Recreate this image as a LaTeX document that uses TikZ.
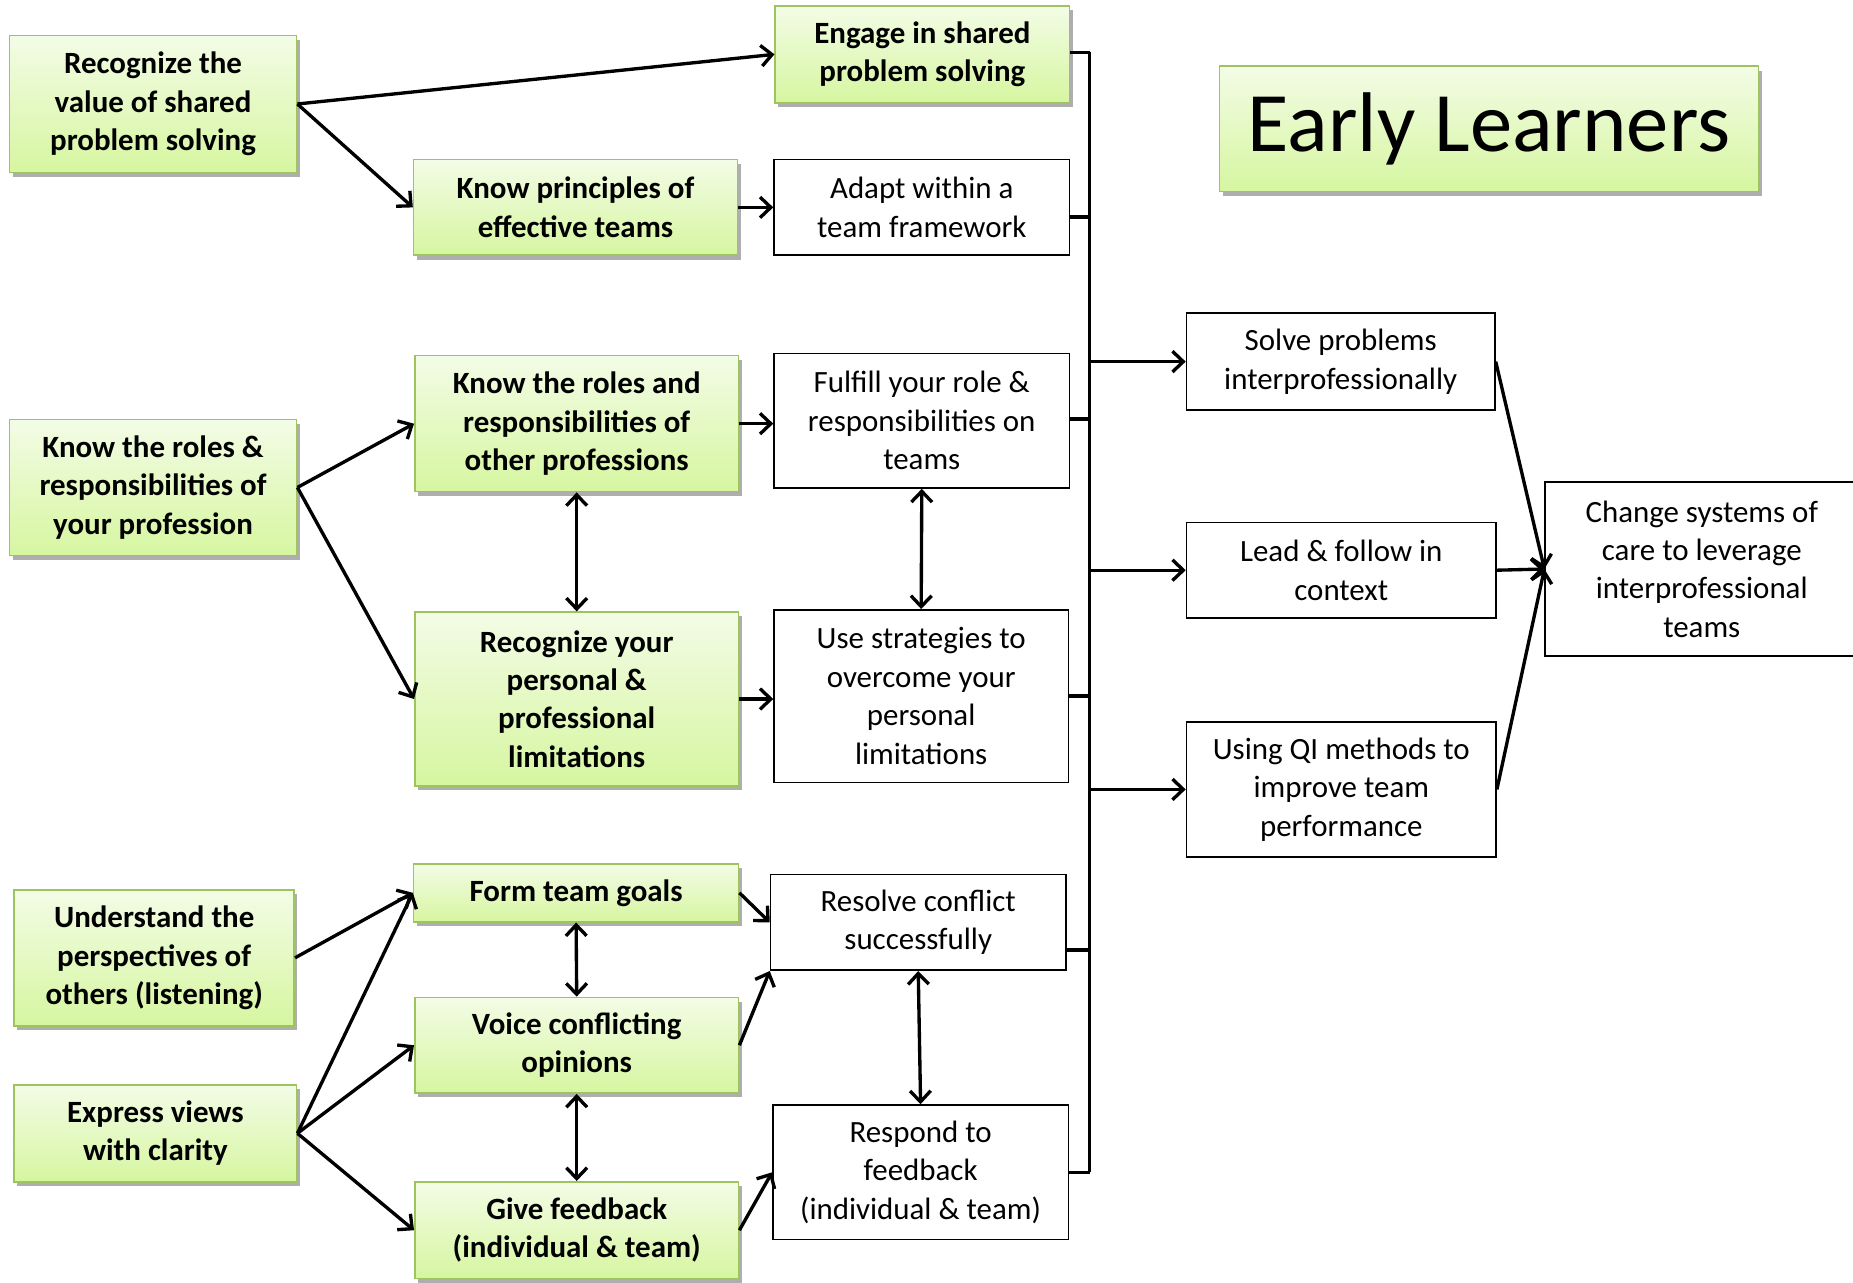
\documentclass[tikz,border=0pt]{standalone}
\usepackage{fontspec}
\setmainfont{Carlito}
\usetikzlibrary{arrows.meta,shadows,calc}
\definecolor{gtop}{RGB}{243,252,230}
\definecolor{gbot}{RGB}{214,246,160}
\definecolor{gline}{RGB}{158,196,96}

\begin{document}
\begin{tikzpicture}[x=0.6pt,y=-0.6pt,
  txt/.style={font=\fontsize{15.7}{19.5}\selectfont, align=center, inner sep=0pt},
  gbox/.style={txt, font=\fontsize{15.7}{19.5}\selectfont\bfseries, draw=gline, line width=0.8pt,
    top color=gtop, bottom color=gbot,
    drop shadow={shadow xshift=1.6pt, shadow yshift=-2.2pt, opacity=0.45, fill=black!70}},
  wbox/.style={txt, draw=black, line width=0.8pt, fill=white},
  tip/.tip={Straight Barb[length=5.5pt,width=10.5pt]},
  ar/.style={line width=1.7pt, -tip},
  dar/.style={line width=1.7pt, tip-tip},
  busline/.style={line width=1.8pt},
]
\useasboundingbox (0,0) rectangle (1568,1085);

% title
\node[gbox, font=\fontsize{43}{52}\selectfont, minimum width=273.6pt, minimum height=63.6pt] (title) at (1260,109) {\raisebox{-3pt}{Early Learners}};

% left column
\node[gbox, minimum width=145.8pt, minimum height=69.6pt] (l1) at (129.5,88) {Recognize the\\value of shared\\problem solving};
\node[gbox, minimum width=145.8pt, minimum height=69pt] (l2) at (129.5,412.5) {Know the roles \&\\responsibilities of\\your profession};
\node[gbox, minimum width=142.2pt, minimum height=69pt] (l3) at (130.5,810.5) {Understand the\\perspectives of\\others (listening)};
\node[gbox, minimum width=143.4pt, minimum height=49.2pt] (l4) at (131.5,959) {Express views\\with clarity};

% middle column
\node[gbox, minimum width=149.4pt, minimum height=49.2pt] (m1) at (780.5,46) {Engage in shared\\problem solving};
\node[gbox, minimum width=164.4pt, minimum height=48.6pt] (m2) at (487,175.5) {Know principles of\\effective teams};
\node[gbox, minimum width=164.4pt, minimum height=69pt] (m3) at (488,358.5) {Know the roles and\\responsibilities of\\other professions};
\node[gbox, minimum width=164.4pt, minimum height=88.2pt] (m4) at (488,591.5) {Recognize your\\personal \&\\professional\\limitations};
\node[gbox, minimum width=165pt, minimum height=29.4pt] (m5) at (487.5,755.5) {Form team goals};
\node[gbox, minimum width=164.4pt, minimum height=48.6pt] (m6) at (488,884.5) {Voice conflicting\\opinions};
\node[gbox, minimum width=164.4pt, minimum height=49.2pt] (m7) at (488,1041) {Give feedback\\(individual \& team)};

% outcome column
\node[wbox, minimum width=150pt, minimum height=48.6pt] (w1) at (780,175.5) {Adapt within a\\team framework};
\node[wbox, minimum width=150pt, minimum height=68.4pt] (w2) at (780,356) {Fulfill your role \&\\responsibilities on\\teams};
\node[wbox, minimum width=149.4pt, minimum height=87.6pt] (w3) at (779.5,589) {Use strategies to\\overcome your\\personal\\limitations};
\node[wbox, minimum width=150pt, minimum height=48.6pt] (w4) at (777,780.5) {Resolve conflict\\successfully};
\node[wbox, minimum width=150pt, minimum height=68.4pt] (w5) at (779,992) {Respond to\\feedback\\(individual \& team)};

% right column
\node[wbox, minimum width=156.6pt, minimum height=49.2pt] (r1) at (1134.5,306) {Solve problems\\interprofessionally};
\node[wbox, minimum width=157.2pt, minimum height=48.6pt] (r2) at (1135,482.5) {Lead \& follow in\\context};
\node[wbox, minimum width=157.2pt, minimum height=68.4pt] (r3) at (1135,668) {Using QI methods to\\improve team\\performance};
\node[wbox, minimum width=159pt, minimum height=88.2pt] (f) at (1440,481.5) {Change systems of\\care to leverage\\interprofessional\\teams};

% collecting bus
\coordinate (bus) at (922,0);
\coordinate (bustop) at (922,44);
\coordinate (busbot) at (922,992);
\draw[busline] (bustop) -- (busbot);
\draw[busline] ([yshift=1pt]m1.east) -- ([yshift=1pt]m1.east -| bus);
\draw[busline] ([yshift=-5pt]w1.east) -- ([yshift=-5pt]w1.east -| bus);
\draw[busline] ([yshift=1pt]w2.east) -- ([yshift=1pt]w2.east -| bus);
\draw[busline] (w3.east) -- (w3.east -| bus);
\draw[busline] ([yshift=-14pt]w4.east) -- ([yshift=-14pt]w4.east -| bus);
\draw[busline] (w5.east) -- (w5.east -| bus);

% bus to competencies
\draw[ar] (r1.west -| bus) -- (r1.west);
\draw[ar] (r2.west -| bus) -- (r2.west);
\draw[ar] (r3.west -| bus) -- (r3.west);

% competencies to final goal
\draw[ar] (r1.east) -- (f.west);
\draw[ar] (r2.east) -- (f.west);
\draw[ar] (r3.east) -- (f.west);

% left to middle
\draw[ar] (l1.east) -- (m1.west);
\draw[ar] (l1.east) -- (m2.west);
\draw[ar] (l2.east) -- (m3.west);
\draw[ar] (l2.east) -- (m4.west);
\draw[ar] (l3.east) -- (m5.west);
\draw[ar] (l4.east) -- (m5.west);
\draw[ar] (l4.east) -- (m6.west);
\draw[ar] (l4.east) -- (m7.west);

% middle to outcomes
\draw[ar] (m2.east) -- (w1.west);
\draw[ar] (m3.east) -- (m3.east -| w2.west);
\draw[ar] (m4.east) -- (m4.east -| w3.west);
\draw[ar] (m5.east) -- (w4.west);
\draw[ar] (m6.east) -- (w4.south west);
\draw[ar] (m7.east) -- (w5.west);

% two-way links
\draw[dar] (m3.south) -- (m4.north);
\draw[dar] (w2.south) -- (w3.north);
\draw[dar] (m5.south) -- (m6.north);
\draw[dar] (m6.south) -- (m7.north);
\draw[dar] (w4.south) -- (w5.north);
\end{tikzpicture}
\end{document}
